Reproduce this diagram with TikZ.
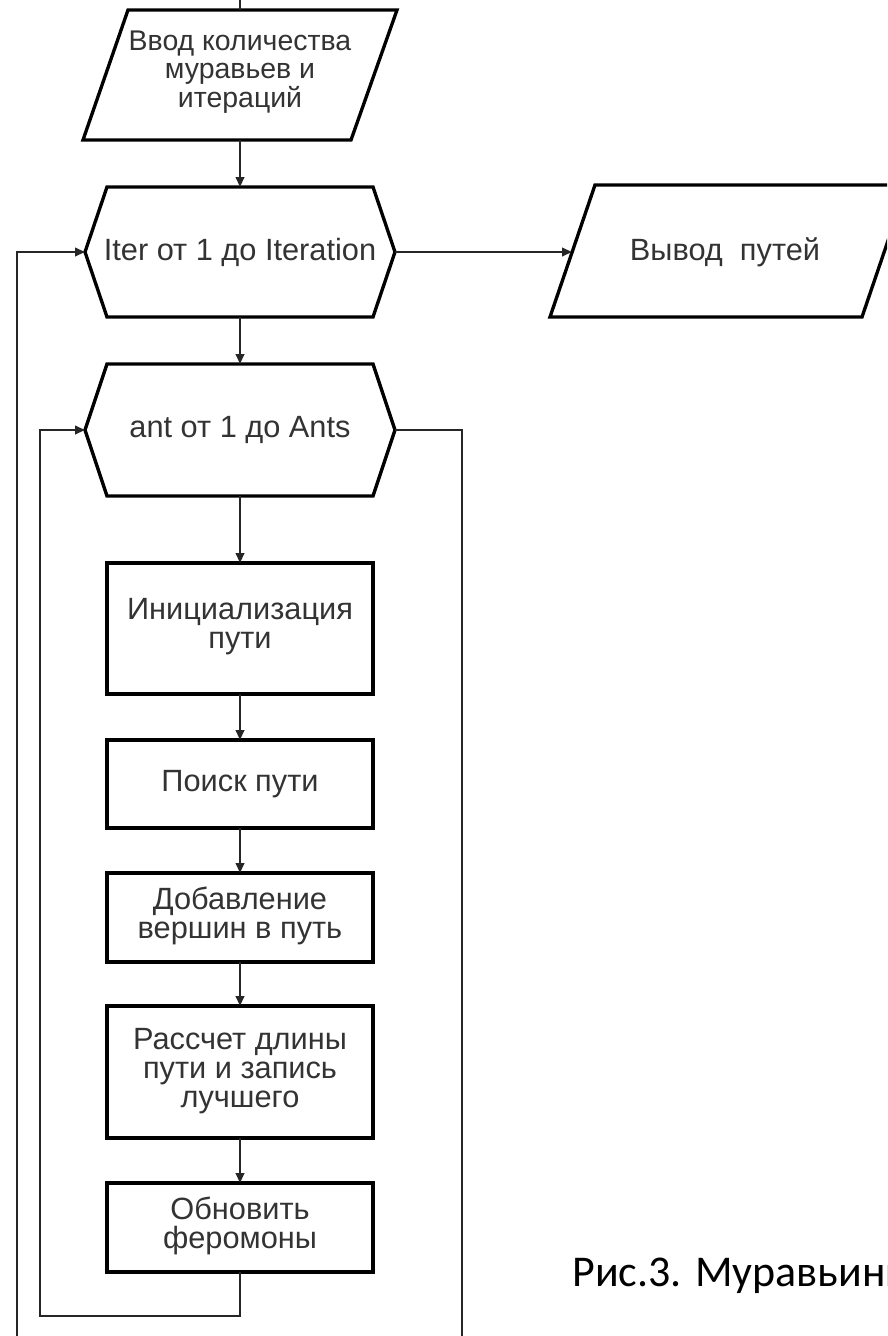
\documentclass[tikz,border=0pt]{standalone}
\usepackage{fontspec}
\setmainfont{Liberation Sans}
\newfontfamily\capfont{Carlito}
\usetikzlibrary{arrows.meta}
\tikzset{
  shapeline/.style={draw=black, line width=1.9pt, line join=miter},
  conn/.style={draw=black!85, line width=1.3pt},
  arr/.style={conn, -{Triangle[length=0.2cm,width=0.17cm]}},
  lbl/.style={align=center, text=black!80, font=\fontsize{17.5}{16.6}\selectfont, inner sep=0pt},
  smalllbl/.style={lbl, font=\fontsize{16.2}{16.4}\selectfont},
}
\begin{document}
\begin{tikzpicture}[x=0.02cm,y=-0.02cm]
\useasboundingbox (0,0) rectangle (887,1336);
\clip (0,0) rectangle (887,1336);
% ---- shapes
% input parallelogram
\draw[shapeline] (128,10) -- (397,10) -- (351,140) -- (83,140) -- cycle;
\node[smalllbl] (inp) at (240,72) {Ввод количества\\муравьев и\\итераций};
\coordinate (inptop) at (240,10);
\coordinate (inpbot) at (240,140);
\coordinate (stub) at (240,-5);
% Iter hexagon
\draw[shapeline] (107,187) -- (373,187) -- (395,252) -- (373,317) -- (107,317) -- (85,252) -- cycle;
\node[lbl] (iter) at (240,252) {Iter от 1 до Iteration};
\coordinate (itertop) at (240,187);
\coordinate (iterbot) at (240,317);
\coordinate (iterleft) at (85,252);
\coordinate (iterright) at (395,252);
% output parallelogram
\draw[shapeline] (595,185) -- (907,185) -- (862,317) -- (550,317) -- cycle;
\node[lbl] (out) at (725,252) {Вывод\ \ путей};
\coordinate (outleft) at (572,252);
% ant hexagon
\draw[shapeline] (107,364) -- (373,364) -- (395,430) -- (373,496) -- (107,496) -- (85,430) -- cycle;
\node[lbl] (ant) at (240,430) {ant от 1 до Ants};
\coordinate (anttop) at (240,364);
\coordinate (antbot) at (240,496);
\coordinate (antleft) at (85,430);
\coordinate (antright) at (395,430);
% process boxes
\draw[shapeline] (107,563) rectangle (373,694);
\node[lbl] (b1) at (240,627) {Инициализация\\пути};
\draw[shapeline] (107,740) rectangle (373,828);
\node[lbl] (b2) at (240,784) {Поиск пути};
\draw[shapeline] (107,873) rectangle (373,962);
\node[lbl] (b3) at (240,916) {Добавление\\вершин в путь};
\draw[shapeline] (107,1006) rectangle (373,1138);
\node[lbl] (b4) at (240,1071) {Рассчет длины\\пути и запись\\лучшего};
\draw[shapeline] (107,1183) rectangle (373,1272);
\node[lbl] (b5) at (240,1226) {Обновить\\феромоны};
\coordinate (b1t) at (240,563); \coordinate (b1b) at (240,694);
\coordinate (b2t) at (240,740); \coordinate (b2b) at (240,828);
\coordinate (b3t) at (240,873); \coordinate (b3b) at (240,962);
\coordinate (b4t) at (240,1006); \coordinate (b4b) at (240,1138);
\coordinate (b5t) at (240,1183); \coordinate (b5b) at (240,1272);
% loop corners
\coordinate (inA) at (240,1316);
\coordinate (inB) at (40,1316);
\coordinate (inC) at (40,430);
\coordinate (outA) at (462,430);
\coordinate (outB) at (462,1337);
\coordinate (outC) at (17,1337);
\coordinate (outD) at (17,252);
% ---- connectors
\draw[conn] (stub) -- (inptop);
\draw[arr] (inpbot) -- (itertop);
\draw[arr] (iterbot) -- (anttop);
\draw[arr] (iterright) -- (outleft);
\draw[arr] (antbot) -- (b1t);
\draw[arr] (b1b) -- (b2t);
\draw[arr] (b2b) -- (b3t);
\draw[arr] (b3b) -- (b4t);
\draw[arr] (b4b) -- (b5t);
\draw[arr] (b5b) -- (inA) -- (inB) -- (inC) -- (antleft);
\draw[arr] (antright) -- (outA) -- (outB) -- (outC) -- (outD) -- (iterleft);
% ---- caption
\node[anchor=base west, inner sep=0pt, font=\capfont\fontsize{25}{29}\selectfont] (cap) at (572,1286) {Рис.3. Муравьиный алгоритм};
\end{tikzpicture}
\end{document}
